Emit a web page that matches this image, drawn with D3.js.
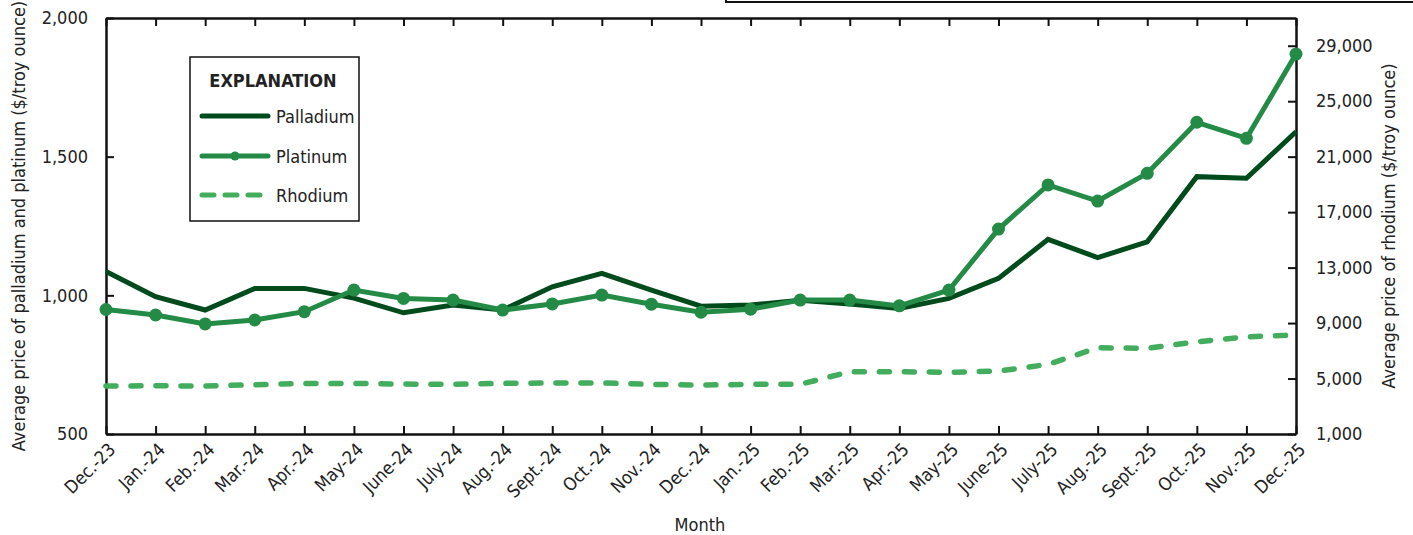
<!DOCTYPE html>
<html>
<head>
<meta charset="utf-8">
<script src="https://cdn.jsdelivr.net/npm/d3@7"></script>
<style>
body{margin:0;background:#fff;}
text{font-family:"Liberation Sans Narrow","DejaVu Sans Condensed","Roboto Condensed",sans-serif;fill:#222;}
</style>
</head>
<body>
<div id="chart"></div>
<script>
let months = ['Dec.-23','Jan.-24','Feb.-24','Mar.-24','Apr.-24','May-24','June-24','July-24','Aug.-24','Sept.-24','Oct.-24','Nov.-24','Dec.-24',
	'Jan.-25','Feb.-25','Mar.-25','Apr.-25','May-25','June-25','July-25','Aug.-25','Sept.-25','Oct.-25','Nov.-25','Dec.-25'];

let palladium = [1086,995,947,1025,1025,990,937,965,947,1031,1079,1019,961,965,982,969,953,989,1061,1202,1136,1193,1428,1422,1590];
let platinum = [949,929,897,911,941,1019,989,983,947,969,1001,968,939,950,983,983,962,1019,1239,1398,1340,1440,1624,1566,1870];
let rhodium = [4460,4480,4460,4550,4650,4650,4600,4580,4650,4680,4680,4580,4530,4580,4580,5490,5490,5450,5540,6020,7220,7180,7650,8010,8140];

let leftTicks = [500,1000,1500,2000],
rightTicks = [1000,5000,9000,13000,17000,21000,25000,29000];

let W = 1413, H = 535,
pLeft = 106, pRight = 1296, pTop = 18, pBottom = 434;

let c_pd = '#004b1c', c_pt = '#238b45', c_rh = '#43ad5e';

let svg = d3.select('#chart').append('svg').attr('width', W).attr('height', H);

let x = d3.scalePoint().domain(months).range([pLeft, pRight]);
let yL = d3.scaleLinear().domain([500, 2000]).range([pBottom, pTop]);
let yR = d3.scaleLinear().domain([1000, 31000]).range([pBottom, pTop]);

//box line at the very top
svg.append('path')
.attr('d', 'M726,0 V2 H' + W)
.style('fill', 'none').style('stroke', '#111').style('stroke-width', 2);

//axes
let fmt = d3.format(',');
let axB = svg.append('g').attr('transform', 'translate(0,' + pBottom + ')')
.call(d3.axisBottom(x).tickSizeInner(-8).tickSizeOuter(0).tickFormat(''));
let axT = svg.append('g').attr('transform', 'translate(0,' + pTop + ')')
.call(d3.axisTop(x).tickSizeInner(-8).tickSizeOuter(0).tickFormat(''));
let axL = svg.append('g').attr('transform', 'translate(' + pLeft + ',0)')
.call(d3.axisLeft(yL).tickValues(leftTicks).tickSizeInner(-8).tickSizeOuter(0).tickFormat(fmt).tickPadding(18));
let axR = svg.append('g').attr('transform', 'translate(' + pRight + ',0)')
.call(d3.axisRight(yR).tickValues(rightTicks).tickSizeInner(-8).tickSizeOuter(0).tickFormat(fmt).tickPadding(20));

[axB, axT, axL, axR].forEach(g=>{
	g.select('.domain').style('stroke', '#111').style('stroke-width', 2.5);
	g.selectAll('.tick line').style('stroke', '#111').style('stroke-width', 2);
	g.selectAll('text').style('font-size', '18px').style('fill', '#222')
	.style('font-family', '"Liberation Sans Narrow","DejaVu Sans Condensed",sans-serif');
});

//month labels rotated
svg.append('g').selectAll('.monthlabel').data(months).enter()
.append('text')
.attr('transform', d=>'translate(' + (x(d) + 6) + ',' + (pBottom + 12) + ') rotate(-45)')
.attr('text-anchor', 'end')
.attr('dominant-baseline', 'central')
.style('font-size', '18px')
.text(d=>d);

//axis titles
svg.append('text').attr('x', 700).attr('y', 531).attr('text-anchor', 'middle')
.style('font-size', '18px').text('Month');
svg.append('text').attr('transform', 'translate(25,226) rotate(-90)').attr('text-anchor', 'middle')
.style('font-size', '18px').text('Average price of palladium and platinum ($/troy ounce)');
svg.append('text').attr('transform', 'translate(1395,226) rotate(-90)').attr('text-anchor', 'middle')
.style('font-size', '18px').text('Average price of rhodium ($/troy ounce)');

//lines
let lineL = d3.line().x((d, i)=>x(months[i])).y(d=>yL(d));
let lineR = d3.line().x((d, i)=>x(months[i])).y(d=>yR(d));

svg.append('path').datum(rhodium).attr('d', lineR)
.style('fill', 'none').style('stroke', c_rh).style('stroke-width', 5.5)
.style('stroke-dasharray', '10,15').style('stroke-linecap', 'round');

svg.append('path').datum(palladium).attr('d', lineL)
.style('fill', 'none').style('stroke', c_pd).style('stroke-width', 5);

svg.append('path').datum(platinum).attr('d', lineL)
.style('fill', 'none').style('stroke', c_pt).style('stroke-width', 5);

svg.append('g').selectAll('.ptdot').data(platinum).enter()
.append('circle')
.attr('cx', (d, i)=>x(months[i]))
.attr('cy', d=>yL(d))
.attr('r', 6.5)
.style('fill', c_pt);

//legend
let lg = svg.append('g');
lg.append('rect').attr('x', 190).attr('y', 57).attr('width', 169).attr('height', 164)
.style('fill', '#fff').style('stroke', '#111').style('stroke-width', 1.5);
lg.append('text').attr('x', 273).attr('y', 80).attr('text-anchor', 'middle').attr('dominant-baseline', 'central')
.style('font-size', '18px').style('font-weight', 'bold').text('EXPLANATION');

let legendItems = [
	{name:'Palladium', color:c_pd, dash:null, dot:false, y:116, x2:268},
	{name:'Platinum', color:c_pt, dash:null, dot:true, y:156, x2:268},
	{name:'Rhodium', color:c_rh, dash:'12,11', dot:false, y:195, x2:262}
];
legendItems.forEach(d=>{
	lg.append('line').attr('x1', 202).attr('x2', d.x2).attr('y1', d.y).attr('y2', d.y)
	.style('stroke', d.color).style('stroke-width', 5).style('stroke-linecap', 'round')
	.style('stroke-dasharray', d.dash);
	if(d.dot)
		lg.append('circle').attr('cx', 235).attr('cy', d.y).attr('r', 4.5).style('fill', d.color);
	lg.append('text').attr('x', 276).attr('y', d.y).attr('dominant-baseline', 'central')
	.style('font-size', '18px').text(d.name);
});
</script>
</body>
</html>
